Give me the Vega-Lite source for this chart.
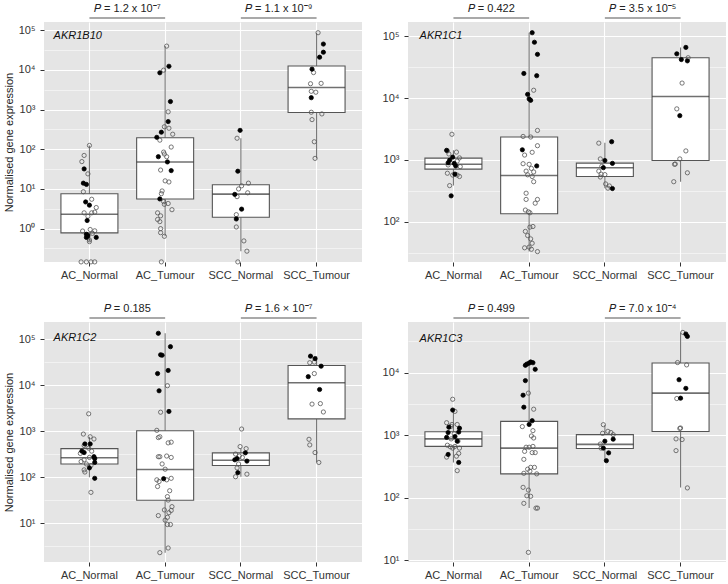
{
"$schema": "https://vega.github.io/schema/vega-lite/v6.json",
"padding": {"left": 3, "top": 3, "right": 3, "bottom": 3},
"columns": 2,
"spacing": {"row": 60, "column": 46},
"bounds": "flush",
"datasets": {
"box": [
{"g":"AKR1B10","x":"AC_Normal","lo":0.47,"q1":0.78,"med":2.3,"q3":7.6,"hi":125},
{"g":"AKR1B10","x":"AC_Tumour","lo":0.64,"q1":5.6,"med":48,"q3":195,"hi":40000},
{"g":"AKR1B10","x":"SCC_Normal","lo":0.27,"q1":1.93,"med":7.4,"q3":12.8,"hi":190},
{"g":"AKR1B10","x":"SCC_Tumour","lo":59,"q1":850,"med":3600,"q3":12600,"hi":87000},
{"g":"AKR1C1","x":"AC_Normal","lo":385,"q1":710,"med":850,"q3":1070,"hi":1430},
{"g":"AKR1C1","x":"AC_Tumour","lo":33,"q1":135,"med":560,"q3":2350,"hi":114000},
{"g":"AKR1C1","x":"SCC_Normal","lo":350,"q1":540,"med":750,"q3":890,"hi":1900},
{"g":"AKR1C1","x":"SCC_Tumour","lo":445,"q1":980,"med":10600,"q3":45000,"hi":66000},
{"g":"AKR1C2","x":"AC_Normal","lo":100,"q1":195,"med":265,"q3":420,"hi":760},
{"g":"AKR1C2","x":"AC_Tumour","lo":2.3,"q1":31.6,"med":148,"q3":1030,"hi":135000},
{"g":"AKR1C2","x":"SCC_Normal","lo":103,"q1":180,"med":235,"q3":340,"hi":420},
{"g":"AKR1C2","x":"SCC_Tumour","lo":210,"q1":1860,"med":11400,"q3":27000,"hi":43000},
{"g":"AKR1C3","x":"AC_Normal","lo":365,"q1":660,"med":870,"q3":1130,"hi":2400},
{"g":"AKR1C3","x":"AC_Tumour","lo":68,"q1":240,"med":620,"q3":1660,"hi":14800},
{"g":"AKR1C3","x":"SCC_Normal","lo":390,"q1":610,"med":710,"q3":1020,"hi":1470},
{"g":"AKR1C3","x":"SCC_Tumour","lo":145,"q1":1140,"med":4700,"q3":14300,"hi":44000}
],
"ann": [
{"g":"AKR1B10","from":"AC_Normal","to":"AC_Tumour","mid":"AC_Tumour","label":"𝑃 = 1.2 x 10⁻⁷"},
{"g":"AKR1B10","from":"SCC_Normal","to":"SCC_Tumour","mid":"SCC_Tumour","label":"𝑃 = 1.1 x 10⁻⁹"},
{"g":"AKR1C1","from":"AC_Normal","to":"AC_Tumour","mid":"AC_Tumour","label":"𝑃 = 0.422"},
{"g":"AKR1C1","from":"SCC_Normal","to":"SCC_Tumour","mid":"SCC_Tumour","label":"𝑃 = 3.5 x 10⁻⁵"},
{"g":"AKR1C2","from":"AC_Normal","to":"AC_Tumour","mid":"AC_Tumour","label":"𝑃 = 0.185"},
{"g":"AKR1C2","from":"SCC_Normal","to":"SCC_Tumour","mid":"SCC_Tumour","label":"𝑃 = 1.6 × 10⁻⁷"},
{"g":"AKR1C3","from":"AC_Normal","to":"AC_Tumour","mid":"AC_Tumour","label":"𝑃 = 0.499"},
{"g":"AKR1C3","from":"SCC_Normal","to":"SCC_Tumour","mid":"SCC_Tumour","label":"𝑃 = 7.0 x 10⁻⁴"}
],
"pts": [
{"g":"AKR1B10","x":"AC_Normal","v":125,"f":0,"j":0},
{"g":"AKR1B10","x":"AC_Normal","v":70,"f":0,"j":-0.07},
{"g":"AKR1B10","x":"AC_Normal","v":49,"f":0,"j":-0.1},
{"g":"AKR1B10","x":"AC_Normal","v":32,"f":1,"j":-0.07},
{"g":"AKR1B10","x":"AC_Normal","v":24,"f":0,"j":-0.02},
{"g":"AKR1B10","x":"AC_Normal","v":14,"f":1,"j":-0.08},
{"g":"AKR1B10","x":"AC_Normal","v":13,"f":1,"j":-0.04},
{"g":"AKR1B10","x":"AC_Normal","v":8.5,"f":0,"j":-0.08},
{"g":"AKR1B10","x":"AC_Normal","v":5.5,"f":0,"j":0.03},
{"g":"AKR1B10","x":"AC_Normal","v":4.7,"f":1,"j":-0.05},
{"g":"AKR1B10","x":"AC_Normal","v":3.9,"f":1,"j":0},
{"g":"AKR1B10","x":"AC_Normal","v":3.4,"f":0,"j":0.09},
{"g":"AKR1B10","x":"AC_Normal","v":2.5,"f":0,"j":-0.07},
{"g":"AKR1B10","x":"AC_Normal","v":2.5,"f":0,"j":0.03},
{"g":"AKR1B10","x":"AC_Normal","v":2.6,"f":0,"j":0.07},
{"g":"AKR1B10","x":"AC_Normal","v":2.05,"f":0,"j":-0.02},
{"g":"AKR1B10","x":"AC_Normal","v":1.6,"f":1,"j":-0.03},
{"g":"AKR1B10","x":"AC_Normal","v":0.87,"f":0,"j":-0.09},
{"g":"AKR1B10","x":"AC_Normal","v":0.95,"f":0,"j":0.01},
{"g":"AKR1B10","x":"AC_Normal","v":0.88,"f":0,"j":0.07},
{"g":"AKR1B10","x":"AC_Normal","v":0.76,"f":0,"j":0.04},
{"g":"AKR1B10","x":"AC_Normal","v":0.52,"f":0,"j":0},
{"g":"AKR1B10","x":"AC_Normal","v":0.47,"f":0,"j":0},
{"g":"AKR1B10","x":"AC_Normal","v":0.72,"f":1,"j":-0.04},
{"g":"AKR1B10","x":"AC_Normal","v":0.66,"f":1,"j":-0.02},
{"g":"AKR1B10","x":"AC_Normal","v":0.6,"f":1,"j":-0.04},
{"g":"AKR1B10","x":"AC_Normal","v":0.6,"f":1,"j":0.09},
{"g":"AKR1B10","x":"AC_Normal","v":0.145,"f":0,"j":-0.11},
{"g":"AKR1B10","x":"AC_Normal","v":0.145,"f":0,"j":-0.04},
{"g":"AKR1B10","x":"AC_Normal","v":0.145,"f":0,"j":0.02},
{"g":"AKR1B10","x":"AC_Normal","v":0.145,"f":0,"j":0.07},
{"g":"AKR1B10","x":"AC_Tumour","v":40000,"f":0,"j":0.02},
{"g":"AKR1B10","x":"AC_Tumour","v":9900,"f":0,"j":-0.02},
{"g":"AKR1B10","x":"AC_Tumour","v":880,"f":0,"j":0.04},
{"g":"AKR1B10","x":"AC_Tumour","v":370,"f":0,"j":-0.01},
{"g":"AKR1B10","x":"AC_Tumour","v":340,"f":0,"j":0.05},
{"g":"AKR1B10","x":"AC_Tumour","v":240,"f":0,"j":0.1},
{"g":"AKR1B10","x":"AC_Tumour","v":170,"f":0,"j":-0.07},
{"g":"AKR1B10","x":"AC_Tumour","v":114,"f":0,"j":0.08},
{"g":"AKR1B10","x":"AC_Tumour","v":85,"f":0,"j":-0.02},
{"g":"AKR1B10","x":"AC_Tumour","v":76,"f":0,"j":-0.01},
{"g":"AKR1B10","x":"AC_Tumour","v":65,"f":0,"j":0.02},
{"g":"AKR1B10","x":"AC_Tumour","v":30,"f":0,"j":-0.06},
{"g":"AKR1B10","x":"AC_Tumour","v":16,"f":0,"j":0},
{"g":"AKR1B10","x":"AC_Tumour","v":15,"f":0,"j":0.05},
{"g":"AKR1B10","x":"AC_Tumour","v":8.9,"f":0,"j":-0.04},
{"g":"AKR1B10","x":"AC_Tumour","v":7.6,"f":0,"j":-0.05},
{"g":"AKR1B10","x":"AC_Tumour","v":4.8,"f":0,"j":-0.02},
{"g":"AKR1B10","x":"AC_Tumour","v":4.3,"f":0,"j":0.04},
{"g":"AKR1B10","x":"AC_Tumour","v":4.1,"f":0,"j":-0.01},
{"g":"AKR1B10","x":"AC_Tumour","v":3.0,"f":0,"j":0.09},
{"g":"AKR1B10","x":"AC_Tumour","v":2.5,"f":0,"j":-0.1},
{"g":"AKR1B10","x":"AC_Tumour","v":2.1,"f":0,"j":-0.06},
{"g":"AKR1B10","x":"AC_Tumour","v":1.7,"f":0,"j":-0.1},
{"g":"AKR1B10","x":"AC_Tumour","v":1.5,"f":0,"j":-0.07},
{"g":"AKR1B10","x":"AC_Tumour","v":1.0,"f":0,"j":-0.06},
{"g":"AKR1B10","x":"AC_Tumour","v":0.79,"f":0,"j":-0.06},
{"g":"AKR1B10","x":"AC_Tumour","v":0.64,"f":0,"j":-0.01},
{"g":"AKR1B10","x":"AC_Tumour","v":0.145,"f":0,"j":-0.05},
{"g":"AKR1B10","x":"AC_Tumour","v":12400,"f":1,"j":0.05},
{"g":"AKR1B10","x":"AC_Tumour","v":8500,"f":1,"j":-0.07},
{"g":"AKR1B10","x":"AC_Tumour","v":1600,"f":1,"j":0.07},
{"g":"AKR1B10","x":"AC_Tumour","v":500,"f":1,"j":0.04},
{"g":"AKR1B10","x":"AC_Tumour","v":270,"f":1,"j":-0.05},
{"g":"AKR1B10","x":"AC_Tumour","v":200,"f":1,"j":-0.11},
{"g":"AKR1B10","x":"AC_Tumour","v":65,"f":1,"j":-0.09},
{"g":"AKR1B10","x":"AC_Tumour","v":48,"f":1,"j":0.03},
{"g":"AKR1B10","x":"AC_Tumour","v":29,"f":1,"j":0.08},
{"g":"AKR1B10","x":"AC_Tumour","v":5.6,"f":1,"j":-0.07},
{"g":"AKR1B10","x":"SCC_Normal","v":190,"f":0,"j":-0.05},
{"g":"AKR1B10","x":"SCC_Normal","v":14,"f":0,"j":0.1},
{"g":"AKR1B10","x":"SCC_Normal","v":12,"f":0,"j":0.01},
{"g":"AKR1B10","x":"SCC_Normal","v":10,"f":0,"j":-0.03},
{"g":"AKR1B10","x":"SCC_Normal","v":8,"f":0,"j":0.09},
{"g":"AKR1B10","x":"SCC_Normal","v":6.4,"f":0,"j":-0.05},
{"g":"AKR1B10","x":"SCC_Normal","v":2.25,"f":0,"j":-0.06},
{"g":"AKR1B10","x":"SCC_Normal","v":1.1,"f":0,"j":-0.06},
{"g":"AKR1B10","x":"SCC_Normal","v":0.49,"f":0,"j":0.04},
{"g":"AKR1B10","x":"SCC_Normal","v":0.27,"f":0,"j":0.08},
{"g":"AKR1B10","x":"SCC_Normal","v":0.145,"f":0,"j":-0.04},
{"g":"AKR1B10","x":"SCC_Normal","v":300,"f":1,"j":-0.01},
{"g":"AKR1B10","x":"SCC_Normal","v":28,"f":1,"j":-0.04},
{"g":"AKR1B10","x":"SCC_Normal","v":7.3,"f":1,"j":-0.08},
{"g":"AKR1B10","x":"SCC_Normal","v":3.1,"f":1,"j":0.01},
{"g":"AKR1B10","x":"SCC_Normal","v":1.75,"f":1,"j":-0.06},
{"g":"AKR1B10","x":"SCC_Tumour","v":87000,"f":0,"j":0.02},
{"g":"AKR1B10","x":"SCC_Tumour","v":8600,"f":0,"j":-0.04},
{"g":"AKR1B10","x":"SCC_Tumour","v":4500,"f":0,"j":-0.08},
{"g":"AKR1B10","x":"SCC_Tumour","v":4600,"f":0,"j":0.06},
{"g":"AKR1B10","x":"SCC_Tumour","v":2900,"f":0,"j":-0.07},
{"g":"AKR1B10","x":"SCC_Tumour","v":2750,"f":0,"j":-0.01},
{"g":"AKR1B10","x":"SCC_Tumour","v":860,"f":0,"j":-0.07},
{"g":"AKR1B10","x":"SCC_Tumour","v":780,"f":0,"j":0.07},
{"g":"AKR1B10","x":"SCC_Tumour","v":560,"f":0,"j":-0.06},
{"g":"AKR1B10","x":"SCC_Tumour","v":155,"f":0,"j":-0.03},
{"g":"AKR1B10","x":"SCC_Tumour","v":59,"f":0,"j":-0.02},
{"g":"AKR1B10","x":"SCC_Tumour","v":45000,"f":1,"j":0.09},
{"g":"AKR1B10","x":"SCC_Tumour","v":28000,"f":1,"j":0.09},
{"g":"AKR1B10","x":"SCC_Tumour","v":21000,"f":1,"j":0.04},
{"g":"AKR1B10","x":"SCC_Tumour","v":10500,"f":1,"j":-0.06},
{"g":"AKR1B10","x":"SCC_Tumour","v":2000,"f":1,"j":-0.07},
{"g":"AKR1C1","x":"AC_Normal","v":2600,"f":0,"j":-0.02},
{"g":"AKR1C1","x":"AC_Normal","v":1400,"f":0,"j":-0.08},
{"g":"AKR1C1","x":"AC_Normal","v":1340,"f":0,"j":0.04},
{"g":"AKR1C1","x":"AC_Normal","v":1250,"f":0,"j":-0.06},
{"g":"AKR1C1","x":"AC_Normal","v":1080,"f":0,"j":0.08},
{"g":"AKR1C1","x":"AC_Normal","v":830,"f":0,"j":-0.07},
{"g":"AKR1C1","x":"AC_Normal","v":960,"f":0,"j":0.05},
{"g":"AKR1C1","x":"AC_Normal","v":780,"f":0,"j":0.09},
{"g":"AKR1C1","x":"AC_Normal","v":610,"f":0,"j":-0.08},
{"g":"AKR1C1","x":"AC_Normal","v":570,"f":0,"j":-0.01},
{"g":"AKR1C1","x":"AC_Normal","v":540,"f":0,"j":0.08},
{"g":"AKR1C1","x":"AC_Normal","v":570,"f":0,"j":0.05},
{"g":"AKR1C1","x":"AC_Normal","v":385,"f":0,"j":-0.05},
{"g":"AKR1C1","x":"AC_Normal","v":1430,"f":1,"j":-0.09},
{"g":"AKR1C1","x":"AC_Normal","v":1110,"f":1,"j":-0.01},
{"g":"AKR1C1","x":"AC_Normal","v":990,"f":1,"j":-0.05},
{"g":"AKR1C1","x":"AC_Normal","v":900,"f":1,"j":-0.07},
{"g":"AKR1C1","x":"AC_Normal","v":880,"f":1,"j":0.01},
{"g":"AKR1C1","x":"AC_Normal","v":800,"f":1,"j":0.03},
{"g":"AKR1C1","x":"AC_Normal","v":590,"f":1,"j":0.02},
{"g":"AKR1C1","x":"AC_Normal","v":263,"f":1,"j":-0.03},
{"g":"AKR1C1","x":"AC_Tumour","v":13400,"f":0,"j":0.06},
{"g":"AKR1C1","x":"AC_Tumour","v":3000,"f":0,"j":0.11},
{"g":"AKR1C1","x":"AC_Tumour","v":2400,"f":0,"j":-0.08},
{"g":"AKR1C1","x":"AC_Tumour","v":2350,"f":0,"j":0.02},
{"g":"AKR1C1","x":"AC_Tumour","v":1700,"f":0,"j":0.11},
{"g":"AKR1C1","x":"AC_Tumour","v":1330,"f":0,"j":0.04},
{"g":"AKR1C1","x":"AC_Tumour","v":1200,"f":0,"j":-0.06},
{"g":"AKR1C1","x":"AC_Tumour","v":870,"f":0,"j":-0.08},
{"g":"AKR1C1","x":"AC_Tumour","v":850,"f":0,"j":0},
{"g":"AKR1C1","x":"AC_Tumour","v":730,"f":0,"j":0.03},
{"g":"AKR1C1","x":"AC_Tumour","v":660,"f":0,"j":-0.04},
{"g":"AKR1C1","x":"AC_Tumour","v":640,"f":0,"j":0.06},
{"g":"AKR1C1","x":"AC_Tumour","v":575,"f":0,"j":-0.02},
{"g":"AKR1C1","x":"AC_Tumour","v":540,"f":0,"j":0.04},
{"g":"AKR1C1","x":"AC_Tumour","v":445,"f":0,"j":0.06},
{"g":"AKR1C1","x":"AC_Tumour","v":290,"f":0,"j":-0.04},
{"g":"AKR1C1","x":"AC_Tumour","v":230,"f":0,"j":0.11},
{"g":"AKR1C1","x":"AC_Tumour","v":230,"f":0,"j":-0.04},
{"g":"AKR1C1","x":"AC_Tumour","v":200,"f":0,"j":0.08},
{"g":"AKR1C1","x":"AC_Tumour","v":155,"f":0,"j":-0.05},
{"g":"AKR1C1","x":"AC_Tumour","v":145,"f":0,"j":-0.01},
{"g":"AKR1C1","x":"AC_Tumour","v":140,"f":0,"j":0.01},
{"g":"AKR1C1","x":"AC_Tumour","v":82,"f":0,"j":0.01},
{"g":"AKR1C1","x":"AC_Tumour","v":84,"f":0,"j":0.05},
{"g":"AKR1C1","x":"AC_Tumour","v":70,"f":0,"j":-0.05},
{"g":"AKR1C1","x":"AC_Tumour","v":60,"f":0,"j":-0.02},
{"g":"AKR1C1","x":"AC_Tumour","v":53,"f":0,"j":0.02},
{"g":"AKR1C1","x":"AC_Tumour","v":45,"f":0,"j":0.04},
{"g":"AKR1C1","x":"AC_Tumour","v":39,"f":0,"j":0},
{"g":"AKR1C1","x":"AC_Tumour","v":38,"f":0,"j":-0.06},
{"g":"AKR1C1","x":"AC_Tumour","v":36,"f":0,"j":0.03},
{"g":"AKR1C1","x":"AC_Tumour","v":33,"f":0,"j":0.11},
{"g":"AKR1C1","x":"AC_Tumour","v":114000,"f":1,"j":0.04},
{"g":"AKR1C1","x":"AC_Tumour","v":80000,"f":1,"j":0.07},
{"g":"AKR1C1","x":"AC_Tumour","v":51000,"f":1,"j":0.11},
{"g":"AKR1C1","x":"AC_Tumour","v":25000,"f":1,"j":-0.07},
{"g":"AKR1C1","x":"AC_Tumour","v":23000,"f":1,"j":0.1},
{"g":"AKR1C1","x":"AC_Tumour","v":11500,"f":1,"j":-0.02},
{"g":"AKR1C1","x":"AC_Tumour","v":9700,"f":1,"j":0},
{"g":"AKR1C1","x":"AC_Tumour","v":9200,"f":1,"j":0.02},
{"g":"AKR1C1","x":"AC_Tumour","v":1460,"f":1,"j":-0.09},
{"g":"AKR1C1","x":"AC_Tumour","v":800,"f":1,"j":0.1},
{"g":"AKR1C1","x":"SCC_Normal","v":1870,"f":0,"j":-0.08},
{"g":"AKR1C1","x":"SCC_Normal","v":1040,"f":0,"j":-0.06},
{"g":"AKR1C1","x":"SCC_Normal","v":790,"f":0,"j":-0.04},
{"g":"AKR1C1","x":"SCC_Normal","v":660,"f":0,"j":-0.08},
{"g":"AKR1C1","x":"SCC_Normal","v":590,"f":0,"j":-0.05},
{"g":"AKR1C1","x":"SCC_Normal","v":580,"f":0,"j":0},
{"g":"AKR1C1","x":"SCC_Normal","v":530,"f":0,"j":-0.06},
{"g":"AKR1C1","x":"SCC_Normal","v":410,"f":0,"j":0.01},
{"g":"AKR1C1","x":"SCC_Normal","v":380,"f":0,"j":0.06},
{"g":"AKR1C1","x":"SCC_Normal","v":350,"f":0,"j":0.04},
{"g":"AKR1C1","x":"SCC_Normal","v":1970,"f":1,"j":0.09},
{"g":"AKR1C1","x":"SCC_Normal","v":980,"f":1,"j":0},
{"g":"AKR1C1","x":"SCC_Normal","v":880,"f":1,"j":0.1},
{"g":"AKR1C1","x":"SCC_Normal","v":750,"f":1,"j":-0.02},
{"g":"AKR1C1","x":"SCC_Normal","v":345,"f":1,"j":0.1},
{"g":"AKR1C1","x":"SCC_Tumour","v":45000,"f":0,"j":0.1},
{"g":"AKR1C1","x":"SCC_Tumour","v":17500,"f":0,"j":0.02},
{"g":"AKR1C1","x":"SCC_Tumour","v":6700,"f":0,"j":-0.05},
{"g":"AKR1C1","x":"SCC_Tumour","v":1400,"f":0,"j":0.07},
{"g":"AKR1C1","x":"SCC_Tumour","v":1040,"f":0,"j":-0.01},
{"g":"AKR1C1","x":"SCC_Tumour","v":850,"f":0,"j":-0.08},
{"g":"AKR1C1","x":"SCC_Tumour","v":860,"f":0,"j":-0.07},
{"g":"AKR1C1","x":"SCC_Tumour","v":620,"f":0,"j":0.09},
{"g":"AKR1C1","x":"SCC_Tumour","v":445,"f":0,"j":-0.09},
{"g":"AKR1C1","x":"SCC_Tumour","v":66000,"f":1,"j":0.07},
{"g":"AKR1C1","x":"SCC_Tumour","v":52000,"f":1,"j":-0.05},
{"g":"AKR1C1","x":"SCC_Tumour","v":42000,"f":1,"j":0.01},
{"g":"AKR1C1","x":"SCC_Tumour","v":40000,"f":1,"j":0.09},
{"g":"AKR1C1","x":"SCC_Tumour","v":5200,"f":1,"j":-0.01},
{"g":"AKR1C2","x":"AC_Normal","v":2400,"f":0,"j":-0.01},
{"g":"AKR1C2","x":"AC_Normal","v":870,"f":0,"j":-0.08},
{"g":"AKR1C2","x":"AC_Normal","v":760,"f":0,"j":0.01},
{"g":"AKR1C2","x":"AC_Normal","v":680,"f":0,"j":0.06},
{"g":"AKR1C2","x":"AC_Normal","v":490,"f":0,"j":-0.07},
{"g":"AKR1C2","x":"AC_Normal","v":430,"f":0,"j":-0.01},
{"g":"AKR1C2","x":"AC_Normal","v":370,"f":0,"j":0.03},
{"g":"AKR1C2","x":"AC_Normal","v":330,"f":0,"j":-0.12},
{"g":"AKR1C2","x":"AC_Normal","v":270,"f":0,"j":0},
{"g":"AKR1C2","x":"AC_Normal","v":240,"f":0,"j":-0.07},
{"g":"AKR1C2","x":"AC_Normal","v":220,"f":0,"j":-0.11},
{"g":"AKR1C2","x":"AC_Normal","v":195,"f":0,"j":-0.04},
{"g":"AKR1C2","x":"AC_Normal","v":180,"f":0,"j":0.02},
{"g":"AKR1C2","x":"AC_Normal","v":145,"f":0,"j":-0.07},
{"g":"AKR1C2","x":"AC_Normal","v":130,"f":0,"j":-0.06},
{"g":"AKR1C2","x":"AC_Normal","v":47,"f":0,"j":0.02},
{"g":"AKR1C2","x":"AC_Normal","v":530,"f":1,"j":-0.06},
{"g":"AKR1C2","x":"AC_Normal","v":530,"f":1,"j":0.01},
{"g":"AKR1C2","x":"AC_Normal","v":370,"f":1,"j":-0.1},
{"g":"AKR1C2","x":"AC_Normal","v":345,"f":1,"j":-0.07},
{"g":"AKR1C2","x":"AC_Normal","v":280,"f":1,"j":0.06},
{"g":"AKR1C2","x":"AC_Normal","v":255,"f":1,"j":0.07},
{"g":"AKR1C2","x":"AC_Normal","v":210,"f":1,"j":0.07},
{"g":"AKR1C2","x":"AC_Normal","v":160,"f":1,"j":0},
{"g":"AKR1C2","x":"AC_Normal","v":95,"f":1,"j":0.07},
{"g":"AKR1C2","x":"AC_Tumour","v":9800,"f":0,"j":0.03},
{"g":"AKR1C2","x":"AC_Tumour","v":2600,"f":0,"j":-0.06},
{"g":"AKR1C2","x":"AC_Tumour","v":1050,"f":0,"j":-0.11},
{"g":"AKR1C2","x":"AC_Tumour","v":760,"f":0,"j":-0.07},
{"g":"AKR1C2","x":"AC_Tumour","v":730,"f":0,"j":-0.09},
{"g":"AKR1C2","x":"AC_Tumour","v":560,"f":0,"j":0.04},
{"g":"AKR1C2","x":"AC_Tumour","v":580,"f":0,"j":0.08},
{"g":"AKR1C2","x":"AC_Tumour","v":280,"f":0,"j":-0.09},
{"g":"AKR1C2","x":"AC_Tumour","v":280,"f":0,"j":-0.07},
{"g":"AKR1C2","x":"AC_Tumour","v":290,"f":0,"j":0.02},
{"g":"AKR1C2","x":"AC_Tumour","v":270,"f":0,"j":0.08},
{"g":"AKR1C2","x":"AC_Tumour","v":195,"f":0,"j":-0.04},
{"g":"AKR1C2","x":"AC_Tumour","v":150,"f":0,"j":0},
{"g":"AKR1C2","x":"AC_Tumour","v":88,"f":0,"j":-0.11},
{"g":"AKR1C2","x":"AC_Tumour","v":81,"f":0,"j":-0.08},
{"g":"AKR1C2","x":"AC_Tumour","v":88,"f":0,"j":0.02},
{"g":"AKR1C2","x":"AC_Tumour","v":95,"f":0,"j":0.08},
{"g":"AKR1C2","x":"AC_Tumour","v":63,"f":0,"j":-0.1},
{"g":"AKR1C2","x":"AC_Tumour","v":51,"f":0,"j":0.06},
{"g":"AKR1C2","x":"AC_Tumour","v":38,"f":0,"j":0.03},
{"g":"AKR1C2","x":"AC_Tumour","v":32,"f":0,"j":0.04},
{"g":"AKR1C2","x":"AC_Tumour","v":23,"f":0,"j":0.09},
{"g":"AKR1C2","x":"AC_Tumour","v":19,"f":0,"j":0.08},
{"g":"AKR1C2","x":"AC_Tumour","v":19.5,"f":0,"j":-0.01},
{"g":"AKR1C2","x":"AC_Tumour","v":17,"f":0,"j":0.05},
{"g":"AKR1C2","x":"AC_Tumour","v":14.7,"f":0,"j":-0.09},
{"g":"AKR1C2","x":"AC_Tumour","v":13.5,"f":0,"j":0.03},
{"g":"AKR1C2","x":"AC_Tumour","v":11.7,"f":0,"j":0},
{"g":"AKR1C2","x":"AC_Tumour","v":9.4,"f":0,"j":0.03},
{"g":"AKR1C2","x":"AC_Tumour","v":9.4,"f":0,"j":0.07},
{"g":"AKR1C2","x":"AC_Tumour","v":2.3,"f":0,"j":-0.07},
{"g":"AKR1C2","x":"AC_Tumour","v":2.9,"f":0,"j":0.04},
{"g":"AKR1C2","x":"AC_Tumour","v":135000,"f":1,"j":-0.09},
{"g":"AKR1C2","x":"AC_Tumour","v":69000,"f":1,"j":0.07},
{"g":"AKR1C2","x":"AC_Tumour","v":46000,"f":1,"j":-0.06},
{"g":"AKR1C2","x":"AC_Tumour","v":45000,"f":1,"j":-0.04},
{"g":"AKR1C2","x":"AC_Tumour","v":18000,"f":1,"j":-0.1},
{"g":"AKR1C2","x":"AC_Tumour","v":21000,"f":1,"j":0.04},
{"g":"AKR1C2","x":"AC_Tumour","v":7600,"f":1,"j":-0.08},
{"g":"AKR1C2","x":"AC_Tumour","v":2700,"f":1,"j":0.05},
{"g":"AKR1C2","x":"AC_Tumour","v":93,"f":1,"j":-0.02},
{"g":"AKR1C2","x":"SCC_Normal","v":1120,"f":0,"j":0.01},
{"g":"AKR1C2","x":"SCC_Normal","v":465,"f":0,"j":-0.01},
{"g":"AKR1C2","x":"SCC_Normal","v":420,"f":0,"j":0.07},
{"g":"AKR1C2","x":"SCC_Normal","v":320,"f":0,"j":-0.07},
{"g":"AKR1C2","x":"SCC_Normal","v":290,"f":0,"j":-0.02},
{"g":"AKR1C2","x":"SCC_Normal","v":270,"f":0,"j":0.02},
{"g":"AKR1C2","x":"SCC_Normal","v":195,"f":0,"j":-0.03},
{"g":"AKR1C2","x":"SCC_Normal","v":160,"f":0,"j":-0.05},
{"g":"AKR1C2","x":"SCC_Normal","v":103,"f":0,"j":-0.07},
{"g":"AKR1C2","x":"SCC_Normal","v":117,"f":0,"j":0.08},
{"g":"AKR1C2","x":"SCC_Normal","v":340,"f":1,"j":0.06},
{"g":"AKR1C2","x":"SCC_Normal","v":255,"f":1,"j":-0.05},
{"g":"AKR1C2","x":"SCC_Normal","v":240,"f":1,"j":-0.08},
{"g":"AKR1C2","x":"SCC_Normal","v":225,"f":1,"j":0.08},
{"g":"AKR1C2","x":"SCC_Normal","v":126,"f":1,"j":-0.04},
{"g":"AKR1C2","x":"SCC_Tumour","v":31000,"f":0,"j":-0.09},
{"g":"AKR1C2","x":"SCC_Tumour","v":32000,"f":0,"j":-0.03},
{"g":"AKR1C2","x":"SCC_Tumour","v":18000,"f":0,"j":-0.03},
{"g":"AKR1C2","x":"SCC_Tumour","v":3900,"f":0,"j":-0.06},
{"g":"AKR1C2","x":"SCC_Tumour","v":4000,"f":0,"j":0.05},
{"g":"AKR1C2","x":"SCC_Tumour","v":2630,"f":0,"j":0.09},
{"g":"AKR1C2","x":"SCC_Tumour","v":670,"f":0,"j":-0.1},
{"g":"AKR1C2","x":"SCC_Tumour","v":505,"f":0,"j":-0.09},
{"g":"AKR1C2","x":"SCC_Tumour","v":345,"f":0,"j":-0.02},
{"g":"AKR1C2","x":"SCC_Tumour","v":210,"f":0,"j":0.03},
{"g":"AKR1C2","x":"SCC_Tumour","v":43000,"f":1,"j":-0.08},
{"g":"AKR1C2","x":"SCC_Tumour","v":38000,"f":1,"j":-0.02},
{"g":"AKR1C2","x":"SCC_Tumour","v":26000,"f":1,"j":0.06},
{"g":"AKR1C2","x":"SCC_Tumour","v":15400,"f":1,"j":-0.11},
{"g":"AKR1C2","x":"SCC_Tumour","v":8100,"f":1,"j":0.04},
{"g":"AKR1C3","x":"AC_Normal","v":3750,"f":0,"j":-0.01},
{"g":"AKR1C3","x":"AC_Normal","v":2400,"f":0,"j":0.02},
{"g":"AKR1C3","x":"AC_Normal","v":1580,"f":0,"j":-0.09},
{"g":"AKR1C3","x":"AC_Normal","v":1480,"f":0,"j":-0.02},
{"g":"AKR1C3","x":"AC_Normal","v":1480,"f":0,"j":0.05},
{"g":"AKR1C3","x":"AC_Normal","v":1380,"f":0,"j":-0.03},
{"g":"AKR1C3","x":"AC_Normal","v":1050,"f":0,"j":0.01},
{"g":"AKR1C3","x":"AC_Normal","v":870,"f":0,"j":-0.03},
{"g":"AKR1C3","x":"AC_Normal","v":690,"f":0,"j":-0.08},
{"g":"AKR1C3","x":"AC_Normal","v":650,"f":0,"j":-0.04},
{"g":"AKR1C3","x":"AC_Normal","v":660,"f":0,"j":0.02},
{"g":"AKR1C3","x":"AC_Normal","v":620,"f":0,"j":-0.01},
{"g":"AKR1C3","x":"AC_Normal","v":620,"f":0,"j":0.08},
{"g":"AKR1C3","x":"AC_Normal","v":800,"f":0,"j":0.06},
{"g":"AKR1C3","x":"AC_Normal","v":510,"f":0,"j":0.07},
{"g":"AKR1C3","x":"AC_Normal","v":460,"f":0,"j":0.04},
{"g":"AKR1C3","x":"AC_Normal","v":445,"f":0,"j":-0.09},
{"g":"AKR1C3","x":"AC_Normal","v":270,"f":0,"j":0.05},
{"g":"AKR1C3","x":"AC_Normal","v":2520,"f":1,"j":-0.01},
{"g":"AKR1C3","x":"AC_Normal","v":1340,"f":1,"j":-0.06},
{"g":"AKR1C3","x":"AC_Normal","v":1290,"f":1,"j":0.08},
{"g":"AKR1C3","x":"AC_Normal","v":1100,"f":1,"j":-0.07},
{"g":"AKR1C3","x":"AC_Normal","v":1120,"f":1,"j":0.07},
{"g":"AKR1C3","x":"AC_Normal","v":920,"f":1,"j":-0.09},
{"g":"AKR1C3","x":"AC_Normal","v":950,"f":1,"j":0.02},
{"g":"AKR1C3","x":"AC_Normal","v":800,"f":1,"j":0.05},
{"g":"AKR1C3","x":"AC_Normal","v":490,"f":1,"j":-0.07},
{"g":"AKR1C3","x":"AC_Normal","v":365,"f":1,"j":0.07},
{"g":"AKR1C3","x":"AC_Tumour","v":4700,"f":0,"j":-0.01},
{"g":"AKR1C3","x":"AC_Tumour","v":2600,"f":0,"j":0.06},
{"g":"AKR1C3","x":"AC_Tumour","v":1370,"f":0,"j":-0.09},
{"g":"AKR1C3","x":"AC_Tumour","v":1180,"f":0,"j":0.05},
{"g":"AKR1C3","x":"AC_Tumour","v":970,"f":0,"j":0.03},
{"g":"AKR1C3","x":"AC_Tumour","v":900,"f":0,"j":0.06},
{"g":"AKR1C3","x":"AC_Tumour","v":640,"f":0,"j":-0.04},
{"g":"AKR1C3","x":"AC_Tumour","v":640,"f":0,"j":0},
{"g":"AKR1C3","x":"AC_Tumour","v":660,"f":0,"j":0.05},
{"g":"AKR1C3","x":"AC_Tumour","v":550,"f":0,"j":-0.06},
{"g":"AKR1C3","x":"AC_Tumour","v":525,"f":0,"j":0.08},
{"g":"AKR1C3","x":"AC_Tumour","v":525,"f":0,"j":0.04},
{"g":"AKR1C3","x":"AC_Tumour","v":410,"f":0,"j":-0.07},
{"g":"AKR1C3","x":"AC_Tumour","v":305,"f":0,"j":0.02},
{"g":"AKR1C3","x":"AC_Tumour","v":305,"f":0,"j":0.07},
{"g":"AKR1C3","x":"AC_Tumour","v":285,"f":0,"j":-0.02},
{"g":"AKR1C3","x":"AC_Tumour","v":245,"f":0,"j":-0.07},
{"g":"AKR1C3","x":"AC_Tumour","v":265,"f":0,"j":0.01},
{"g":"AKR1C3","x":"AC_Tumour","v":240,"f":0,"j":0.1},
{"g":"AKR1C3","x":"AC_Tumour","v":146,"f":0,"j":-0.08},
{"g":"AKR1C3","x":"AC_Tumour","v":132,"f":0,"j":-0.01},
{"g":"AKR1C3","x":"AC_Tumour","v":107,"f":0,"j":-0.03},
{"g":"AKR1C3","x":"AC_Tumour","v":105,"f":0,"j":0.02},
{"g":"AKR1C3","x":"AC_Tumour","v":81,"f":0,"j":-0.07},
{"g":"AKR1C3","x":"AC_Tumour","v":68,"f":0,"j":0.09},
{"g":"AKR1C3","x":"AC_Tumour","v":68,"f":0,"j":0.11},
{"g":"AKR1C3","x":"AC_Tumour","v":13.3,"f":0,"j":-0.01},
{"g":"AKR1C3","x":"AC_Tumour","v":13700,"f":1,"j":-0.03},
{"g":"AKR1C3","x":"AC_Tumour","v":14200,"f":1,"j":0},
{"g":"AKR1C3","x":"AC_Tumour","v":14800,"f":1,"j":0.02},
{"g":"AKR1C3","x":"AC_Tumour","v":14400,"f":1,"j":0.05},
{"g":"AKR1C3","x":"AC_Tumour","v":13100,"f":1,"j":-0.05},
{"g":"AKR1C3","x":"AC_Tumour","v":11300,"f":1,"j":0.08},
{"g":"AKR1C3","x":"AC_Tumour","v":7450,"f":1,"j":-0.05},
{"g":"AKR1C3","x":"AC_Tumour","v":4350,"f":1,"j":-0.08},
{"g":"AKR1C3","x":"AC_Tumour","v":2800,"f":1,"j":-0.07},
{"g":"AKR1C3","x":"AC_Tumour","v":1700,"f":1,"j":0.04},
{"g":"AKR1C3","x":"AC_Tumour","v":1480,"f":1,"j":0},
{"g":"AKR1C3","x":"SCC_Normal","v":1470,"f":0,"j":-0.02},
{"g":"AKR1C3","x":"SCC_Normal","v":1070,"f":0,"j":-0.03},
{"g":"AKR1C3","x":"SCC_Normal","v":1150,"f":0,"j":0.04},
{"g":"AKR1C3","x":"SCC_Normal","v":1100,"f":0,"j":0.08},
{"g":"AKR1C3","x":"SCC_Normal","v":1020,"f":0,"j":0.11},
{"g":"AKR1C3","x":"SCC_Normal","v":720,"f":0,"j":-0.06},
{"g":"AKR1C3","x":"SCC_Normal","v":620,"f":0,"j":-0.05},
{"g":"AKR1C3","x":"SCC_Normal","v":860,"f":1,"j":0.11},
{"g":"AKR1C3","x":"SCC_Normal","v":800,"f":1,"j":0},
{"g":"AKR1C3","x":"SCC_Normal","v":620,"f":1,"j":-0.02},
{"g":"AKR1C3","x":"SCC_Normal","v":520,"f":1,"j":0.05},
{"g":"AKR1C3","x":"SCC_Normal","v":390,"f":1,"j":0.02},
{"g":"AKR1C3","x":"SCC_Tumour","v":44000,"f":0,"j":0.03},
{"g":"AKR1C3","x":"SCC_Tumour","v":14500,"f":0,"j":-0.04},
{"g":"AKR1C3","x":"SCC_Tumour","v":13300,"f":0,"j":0.08},
{"g":"AKR1C3","x":"SCC_Tumour","v":3850,"f":0,"j":-0.05},
{"g":"AKR1C3","x":"SCC_Tumour","v":1300,"f":0,"j":0},
{"g":"AKR1C3","x":"SCC_Tumour","v":1280,"f":0,"j":-0.01},
{"g":"AKR1C3","x":"SCC_Tumour","v":870,"f":0,"j":-0.06},
{"g":"AKR1C3","x":"SCC_Tumour","v":850,"f":0,"j":0.02},
{"g":"AKR1C3","x":"SCC_Tumour","v":565,"f":0,"j":-0.06},
{"g":"AKR1C3","x":"SCC_Tumour","v":143,"f":0,"j":0.09},
{"g":"AKR1C3","x":"SCC_Tumour","v":41500,"f":1,"j":0.07},
{"g":"AKR1C3","x":"SCC_Tumour","v":38000,"f":1,"j":0.09},
{"g":"AKR1C3","x":"SCC_Tumour","v":7700,"f":1,"j":-0.02},
{"g":"AKR1C3","x":"SCC_Tumour","v":5600,"f":1,"j":0.07},
{"g":"AKR1C3","x":"SCC_Tumour","v":3900,"f":1,"j":0}
]
},
"concat": [
{
"width": 318, "height": 240,
"layer": [
{"data": {"name": "box"}, "transform": [{"filter": "datum.g == 'AKR1B10'"}],
 "mark": {"type": "rule", "color": "#777777", "strokeWidth": 1.1},
 "encoding": {
  "x": {"field": "x", "type": "nominal", "title": null, "scale": {"type": "band", "domain": ["AC_Normal","AC_Tumour","SCC_Normal","SCC_Tumour"], "paddingInner": 0, "paddingOuter": 0.1}, "axis": {"title": null, "labelAngle": 0, "grid": true}},
  "y": {"field": "lo", "type": "quantitative", "title": "Normalised gene expression", "scale": {"type": "log", "domain": [0.144, 162000], "nice": false},
        "axis": {"title": "Normalised gene expression", "values": [0.3162, 1, 3.162, 10, 31.62, 100, 316.2, 1000, 3162, 10000, 31623, 100000],
                 "labelExpr": "abs(log(datum.value)/LN10 - round(log(datum.value)/LN10)) < 0.1 ? '10' + substring('⁰¹²³⁴⁵', round(log(datum.value)/LN10), round(log(datum.value)/LN10) + 1) : ''",
                 "gridWidth": {"condition": {"test": "abs(log(datum.value)/LN10 - round(log(datum.value)/LN10)) > 0.1", "value": 0.5}, "value": 1.1},
                 "tickOpacity": {"condition": {"test": "abs(log(datum.value)/LN10 - round(log(datum.value)/LN10)) > 0.1", "value": 0}, "value": 1}}},
  "y2": {"field": "hi"}}},
{"data": {"name": "box"}, "transform": [{"filter": "datum.g == 'AKR1B10'"}],
 "mark": {"type": "bar", "width": 57, "fill": "white", "stroke": "#555555", "strokeWidth": 1.1},
 "encoding": {"x": {"field": "x", "type": "nominal", "title": null}, "y": {"field": "q1", "type": "quantitative", "title": "Normalised gene expression"}, "y2": {"field": "q3"}}},
{"data": {"name": "box"}, "transform": [{"filter": "datum.g == 'AKR1B10'"}],
 "mark": {"type": "tick", "size": 57, "thickness": 1.6, "color": "#333333"},
 "encoding": {"x": {"field": "x", "type": "nominal", "title": null}, "y": {"field": "med", "type": "quantitative", "title": "Normalised gene expression"}}},
{"data": {"name": "pts"}, "transform": [{"filter": "datum.g == 'AKR1B10'"}],
 "mark": {"type": "circle", "size": 18, "strokeWidth": 0.8, "opacity": 1},
 "encoding": {"x": {"field": "x", "type": "nominal", "title": null}, "y": {"field": "v", "type": "quantitative", "title": "Normalised gene expression"},
  "xOffset": {"field": "j", "type": "quantitative", "scale": {"domain": [-0.5, 0.5]}},
  "fill": {"condition": {"test": "datum.f == 1", "value": "#000000"}, "value": "transparent"},
  "stroke": {"condition": {"test": "datum.f == 1", "value": "#000000"}, "value": "#555555"}}},
{"data": {"name": "ann"}, "transform": [{"filter": "datum.g == 'AKR1B10'"}],
 "mark": {"type": "rule", "color": "#555555", "strokeWidth": 1.1, "yOffset": -4},
 "encoding": {"x": {"field": "from", "type": "nominal", "title": null, "bandPosition": 0.5}, "x2": {"field": "to", "bandPosition": 0.5}, "y": {"datum": 162000, "type": "quantitative", "title": "Normalised gene expression"}}},
{"data": {"name": "ann"}, "transform": [{"filter": "datum.g == 'AKR1B10'"}],
 "mark": {"type": "text", "fontSize": 11, "dy": -13, "baseline": "middle", "align": "center", "color": "#222222"},
 "encoding": {"x": {"field": "mid", "type": "nominal", "title": null, "bandPosition": 0}, "y": {"datum": 162000, "type": "quantitative", "title": "Normalised gene expression"}, "text": {"field": "label"}}},
{"data": {"name": "box"}, "transform": [{"filter": "datum.g == 'AKR1B10' && datum.x == 'AC_Normal'"}],
 "mark": {"type": "text", "fontSize": 11, "fontStyle": "italic", "dy": 14, "dx": 2, "baseline": "middle", "align": "left", "color": "#111111"},
 "encoding": {"x": {"field": "x", "type": "nominal", "title": null, "bandPosition": 0}, "y": {"datum": 162000, "type": "quantitative", "title": "Normalised gene expression"}, "text": {"field": "g"}}}
]
},
{
"width": 318, "height": 240,
"layer": [
{"data": {"name": "box"}, "transform": [{"filter": "datum.g == 'AKR1C1'"}],
 "mark": {"type": "rule", "color": "#777777", "strokeWidth": 1.1},
 "encoding": {
  "x": {"field": "x", "type": "nominal", "title": null, "scale": {"type": "band", "domain": ["AC_Normal","AC_Tumour","SCC_Normal","SCC_Tumour"], "paddingInner": 0, "paddingOuter": 0.1}, "axis": {"title": null, "labelAngle": 0, "grid": true}},
  "y": {"field": "lo", "type": "quantitative", "title": null, "scale": {"type": "log", "domain": [22.4, 170000], "nice": false},
        "axis": {"title": null, "values": [31.62, 100, 316.2, 1000, 3162, 10000, 31623, 100000],
                 "labelExpr": "abs(log(datum.value)/LN10 - round(log(datum.value)/LN10)) < 0.1 ? '10' + substring('⁰¹²³⁴⁵', round(log(datum.value)/LN10), round(log(datum.value)/LN10) + 1) : ''",
                 "gridWidth": {"condition": {"test": "abs(log(datum.value)/LN10 - round(log(datum.value)/LN10)) > 0.1", "value": 0.5}, "value": 1.1},
                 "tickOpacity": {"condition": {"test": "abs(log(datum.value)/LN10 - round(log(datum.value)/LN10)) > 0.1", "value": 0}, "value": 1}}},
  "y2": {"field": "hi"}}},
{"data": {"name": "box"}, "transform": [{"filter": "datum.g == 'AKR1C1'"}],
 "mark": {"type": "bar", "width": 57, "fill": "white", "stroke": "#555555", "strokeWidth": 1.1},
 "encoding": {"x": {"field": "x", "type": "nominal", "title": null}, "y": {"field": "q1", "type": "quantitative", "title": null}, "y2": {"field": "q3"}}},
{"data": {"name": "box"}, "transform": [{"filter": "datum.g == 'AKR1C1'"}],
 "mark": {"type": "tick", "size": 57, "thickness": 1.6, "color": "#333333"},
 "encoding": {"x": {"field": "x", "type": "nominal", "title": null}, "y": {"field": "med", "type": "quantitative", "title": null}}},
{"data": {"name": "pts"}, "transform": [{"filter": "datum.g == 'AKR1C1'"}],
 "mark": {"type": "circle", "size": 18, "strokeWidth": 0.8, "opacity": 1},
 "encoding": {"x": {"field": "x", "type": "nominal", "title": null}, "y": {"field": "v", "type": "quantitative", "title": null},
  "xOffset": {"field": "j", "type": "quantitative", "scale": {"domain": [-0.5, 0.5]}},
  "fill": {"condition": {"test": "datum.f == 1", "value": "#000000"}, "value": "transparent"},
  "stroke": {"condition": {"test": "datum.f == 1", "value": "#000000"}, "value": "#555555"}}},
{"data": {"name": "ann"}, "transform": [{"filter": "datum.g == 'AKR1C1'"}],
 "mark": {"type": "rule", "color": "#555555", "strokeWidth": 1.1, "yOffset": -4},
 "encoding": {"x": {"field": "from", "type": "nominal", "title": null, "bandPosition": 0.5}, "x2": {"field": "to", "bandPosition": 0.5}, "y": {"datum": 170000, "type": "quantitative", "title": null}}},
{"data": {"name": "ann"}, "transform": [{"filter": "datum.g == 'AKR1C1'"}],
 "mark": {"type": "text", "fontSize": 11, "dy": -13, "baseline": "middle", "align": "center", "color": "#222222"},
 "encoding": {"x": {"field": "mid", "type": "nominal", "title": null, "bandPosition": 0}, "y": {"datum": 170000, "type": "quantitative", "title": null}, "text": {"field": "label"}}},
{"data": {"name": "box"}, "transform": [{"filter": "datum.g == 'AKR1C1' && datum.x == 'AC_Normal'"}],
 "mark": {"type": "text", "fontSize": 11, "fontStyle": "italic", "dy": 14, "dx": 4, "baseline": "middle", "align": "left", "color": "#111111"},
 "encoding": {"x": {"field": "x", "type": "nominal", "title": null, "bandPosition": 0}, "y": {"datum": 170000, "type": "quantitative", "title": null}, "text": {"field": "g"}}}
]
},
{
"width": 318, "height": 240,
"layer": [
{"data": {"name": "box"}, "transform": [{"filter": "datum.g == 'AKR1C2'"}],
 "mark": {"type": "rule", "color": "#777777", "strokeWidth": 1.1},
 "encoding": {
  "x": {"field": "x", "type": "nominal", "title": null, "scale": {"type": "band", "domain": ["AC_Normal","AC_Tumour","SCC_Normal","SCC_Tumour"], "paddingInner": 0, "paddingOuter": 0.1}, "axis": {"title": null, "labelAngle": 0, "grid": true}},
  "y": {"field": "lo", "type": "quantitative", "title": "Normalised gene expression", "scale": {"type": "log", "domain": [1.44, 237700], "nice": false},
        "axis": {"title": "Normalised gene expression", "values": [3.162, 10, 31.62, 100, 316.2, 1000, 3162, 10000, 31623, 100000],
                 "labelExpr": "abs(log(datum.value)/LN10 - round(log(datum.value)/LN10)) < 0.1 ? '10' + substring('⁰¹²³⁴⁵', round(log(datum.value)/LN10), round(log(datum.value)/LN10) + 1) : ''",
                 "gridWidth": {"condition": {"test": "abs(log(datum.value)/LN10 - round(log(datum.value)/LN10)) > 0.1", "value": 0.5}, "value": 1.1},
                 "tickOpacity": {"condition": {"test": "abs(log(datum.value)/LN10 - round(log(datum.value)/LN10)) > 0.1", "value": 0}, "value": 1}}},
  "y2": {"field": "hi"}}},
{"data": {"name": "box"}, "transform": [{"filter": "datum.g == 'AKR1C2'"}],
 "mark": {"type": "bar", "width": 57, "fill": "white", "stroke": "#555555", "strokeWidth": 1.1},
 "encoding": {"x": {"field": "x", "type": "nominal", "title": null}, "y": {"field": "q1", "type": "quantitative", "title": "Normalised gene expression"}, "y2": {"field": "q3"}}},
{"data": {"name": "box"}, "transform": [{"filter": "datum.g == 'AKR1C2'"}],
 "mark": {"type": "tick", "size": 57, "thickness": 1.6, "color": "#333333"},
 "encoding": {"x": {"field": "x", "type": "nominal", "title": null}, "y": {"field": "med", "type": "quantitative", "title": "Normalised gene expression"}}},
{"data": {"name": "pts"}, "transform": [{"filter": "datum.g == 'AKR1C2'"}],
 "mark": {"type": "circle", "size": 18, "strokeWidth": 0.8, "opacity": 1},
 "encoding": {"x": {"field": "x", "type": "nominal", "title": null}, "y": {"field": "v", "type": "quantitative", "title": "Normalised gene expression"},
  "xOffset": {"field": "j", "type": "quantitative", "scale": {"domain": [-0.5, 0.5]}},
  "fill": {"condition": {"test": "datum.f == 1", "value": "#000000"}, "value": "transparent"},
  "stroke": {"condition": {"test": "datum.f == 1", "value": "#000000"}, "value": "#555555"}}},
{"data": {"name": "ann"}, "transform": [{"filter": "datum.g == 'AKR1C2'"}],
 "mark": {"type": "rule", "color": "#555555", "strokeWidth": 1.1, "yOffset": -4},
 "encoding": {"x": {"field": "from", "type": "nominal", "title": null, "bandPosition": 0.5}, "x2": {"field": "to", "bandPosition": 0.5}, "y": {"datum": 237700, "type": "quantitative", "title": "Normalised gene expression"}}},
{"data": {"name": "ann"}, "transform": [{"filter": "datum.g == 'AKR1C2'"}],
 "mark": {"type": "text", "fontSize": 11, "dy": -13, "baseline": "middle", "align": "center", "color": "#222222"},
 "encoding": {"x": {"field": "mid", "type": "nominal", "title": null, "bandPosition": 0}, "y": {"datum": 237700, "type": "quantitative", "title": "Normalised gene expression"}, "text": {"field": "label"}}},
{"data": {"name": "box"}, "transform": [{"filter": "datum.g == 'AKR1C2' && datum.x == 'AC_Normal'"}],
 "mark": {"type": "text", "fontSize": 11, "fontStyle": "italic", "dy": 16, "dx": 2, "baseline": "middle", "align": "left", "color": "#111111"},
 "encoding": {"x": {"field": "x", "type": "nominal", "title": null, "bandPosition": 0}, "y": {"datum": 237700, "type": "quantitative", "title": "Normalised gene expression"}, "text": {"field": "g"}}}
]
},
{
"width": 318, "height": 240,
"layer": [
{"data": {"name": "box"}, "transform": [{"filter": "datum.g == 'AKR1C3'"}],
 "mark": {"type": "rule", "color": "#777777", "strokeWidth": 1.1},
 "encoding": {
  "x": {"field": "x", "type": "nominal", "title": null, "scale": {"type": "band", "domain": ["AC_Normal","AC_Tumour","SCC_Normal","SCC_Tumour"], "paddingInner": 0, "paddingOuter": 0.1}, "axis": {"title": null, "labelAngle": 0, "grid": true}},
  "y": {"field": "lo", "type": "quantitative", "title": null, "scale": {"type": "log", "domain": [9.33, 64600], "nice": false},
        "axis": {"title": null, "values": [10, 31.62, 100, 316.2, 1000, 3162, 10000, 31623],
                 "labelExpr": "abs(log(datum.value)/LN10 - round(log(datum.value)/LN10)) < 0.1 ? '10' + substring('⁰¹²³⁴⁵', round(log(datum.value)/LN10), round(log(datum.value)/LN10) + 1) : ''",
                 "gridWidth": {"condition": {"test": "abs(log(datum.value)/LN10 - round(log(datum.value)/LN10)) > 0.1", "value": 0.5}, "value": 1.1},
                 "tickOpacity": {"condition": {"test": "abs(log(datum.value)/LN10 - round(log(datum.value)/LN10)) > 0.1", "value": 0}, "value": 1}}},
  "y2": {"field": "hi"}}},
{"data": {"name": "box"}, "transform": [{"filter": "datum.g == 'AKR1C3'"}],
 "mark": {"type": "bar", "width": 57, "fill": "white", "stroke": "#555555", "strokeWidth": 1.1},
 "encoding": {"x": {"field": "x", "type": "nominal", "title": null}, "y": {"field": "q1", "type": "quantitative", "title": null}, "y2": {"field": "q3"}}},
{"data": {"name": "box"}, "transform": [{"filter": "datum.g == 'AKR1C3'"}],
 "mark": {"type": "tick", "size": 57, "thickness": 1.6, "color": "#333333"},
 "encoding": {"x": {"field": "x", "type": "nominal", "title": null}, "y": {"field": "med", "type": "quantitative", "title": null}}},
{"data": {"name": "pts"}, "transform": [{"filter": "datum.g == 'AKR1C3'"}],
 "mark": {"type": "circle", "size": 18, "strokeWidth": 0.8, "opacity": 1},
 "encoding": {"x": {"field": "x", "type": "nominal", "title": null}, "y": {"field": "v", "type": "quantitative", "title": null},
  "xOffset": {"field": "j", "type": "quantitative", "scale": {"domain": [-0.5, 0.5]}},
  "fill": {"condition": {"test": "datum.f == 1", "value": "#000000"}, "value": "transparent"},
  "stroke": {"condition": {"test": "datum.f == 1", "value": "#000000"}, "value": "#555555"}}},
{"data": {"name": "ann"}, "transform": [{"filter": "datum.g == 'AKR1C3'"}],
 "mark": {"type": "rule", "color": "#555555", "strokeWidth": 1.1, "yOffset": -4},
 "encoding": {"x": {"field": "from", "type": "nominal", "title": null, "bandPosition": 0.5}, "x2": {"field": "to", "bandPosition": 0.5}, "y": {"datum": 64600, "type": "quantitative", "title": null}}},
{"data": {"name": "ann"}, "transform": [{"filter": "datum.g == 'AKR1C3'"}],
 "mark": {"type": "text", "fontSize": 11, "dy": -13, "baseline": "middle", "align": "center", "color": "#222222"},
 "encoding": {"x": {"field": "mid", "type": "nominal", "title": null, "bandPosition": 0}, "y": {"datum": 64600, "type": "quantitative", "title": null}, "text": {"field": "label"}}},
{"data": {"name": "box"}, "transform": [{"filter": "datum.g == 'AKR1C3' && datum.x == 'AC_Normal'"}],
 "mark": {"type": "text", "fontSize": 11, "fontStyle": "italic", "dy": 17, "dx": 4, "baseline": "middle", "align": "left", "color": "#111111"},
 "encoding": {"x": {"field": "x", "type": "nominal", "title": null, "bandPosition": 0}, "y": {"datum": 64600, "type": "quantitative", "title": null}, "text": {"field": "g"}}}
]
}
],
"config": {
 "font": "Liberation Sans",
 "view": {"fill": "#e5e5e5", "stroke": null},
 "axis": {"domain": false, "labelFontSize": 11, "labelColor": "#333333", "tickColor": "#333333", "tickSize": 4, "tickWidth": 1, "gridColor": "#ffffff", "titleFontWeight": "normal", "titleFontSize": 11, "titleColor": "#222222", "labelFont": "Liberation Sans", "titleFont": "Liberation Sans"},
 "axisX": {"labelPadding": 3, "gridWidth": 1.1},
 "axisY": {"labelPadding": 5, "titlePadding": 4}
}
}
